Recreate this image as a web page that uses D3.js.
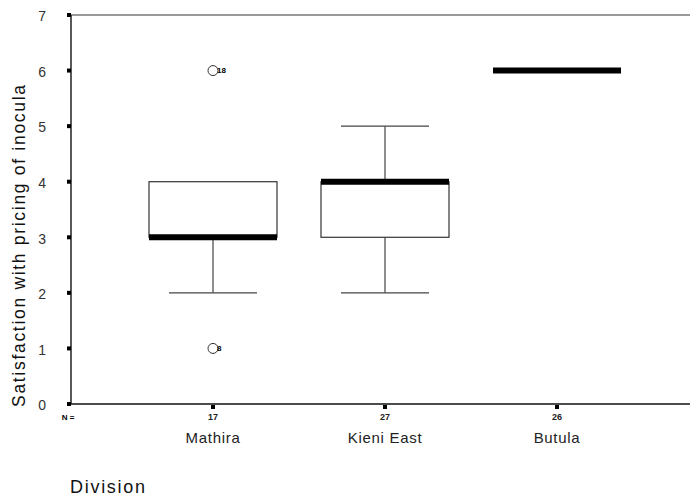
<!DOCTYPE html>
<html>
<head>
<meta charset="utf-8">
<script src="https://cdn.jsdelivr.net/npm/d3@7"></script>
<style>
  body { margin: 0; background: white; }
  text { font-family: Arial, "Liberation Sans", sans-serif; }
</style>
</head>
<body>
<div class="mainVis"></div>
<script>
var divisions = ["Mathira", "Kieni East", "Butula"]
var counts = [17, 27, 26]
var q1 = [3, 3, 6]
var medians = [3, 4, 6]
var q3 = [4, 4, 6]
var whiskerLow = [2, 2, 6]
var whiskerHigh = [4, 5, 6]
var outliers = [
  { "division": "Mathira", "value": 6, "label": "18" },
  { "division": "Mathira", "value": 1, "label": "8" }
]
var yTicks = [0, 1, 2, 3, 4, 5, 6, 7]

var width = 690, height = 496

var svg = d3.select(".mainVis")
    .append("svg")
    .attr("width", width)
    .attr("height", height)

var y = d3.scaleLinear().domain([0, 7]).range([404, 15])
var x = d3.scalePoint().domain(divisions).range([213, 557])

var boxHalf = 64, capHalf = 44

// frame lines
svg.append("line")
    .attr("x1", 71).attr("x2", 690)
    .attr("y1", y(7)).attr("y2", y(7))
    .attr("stroke", "#777").attr("stroke-width", 1.5)
svg.append("line")
    .attr("x1", 71).attr("x2", 71)
    .attr("y1", y(7)).attr("y2", y(0))
    .attr("stroke", "#222").attr("stroke-width", 1.5)
svg.append("line")
    .attr("x1", 71).attr("x2", 690)
    .attr("y1", y(0)).attr("y2", y(0))
    .attr("stroke", "#111").attr("stroke-width", 1.5)

// y ticks
var yt = svg.selectAll(".ytick").data(yTicks).enter().append("g")
    .attr("class", "ytick")
    .attr("transform", function(d) { return "translate(0," + y(d) + ")"; })
yt.append("rect")
    .attr("x", 67).attr("y", -2).attr("width", 4).attr("height", 4)
    .attr("fill", "black")
yt.append("text")
    .attr("x", 46).attr("dy", "0.45em")
    .attr("text-anchor", "end")
    .style("font-size", "14px")
    .attr("fill", "#333")
    .text(function(d) { return d; })

// x ticks
svg.selectAll(".xtick").data(divisions).enter().append("rect")
    .attr("x", function(d) { return x(d) - 2; })
    .attr("y", y(0) + 1).attr("width", 4).attr("height", 4)
    .attr("fill", "black")

svg.append("text")
    .attr("x", 68).attr("y", 420)
    .attr("text-anchor", "middle")
    .style("font-size", "8px").style("font-weight", "bold")
    .text("N =")

svg.selectAll(".count").data(divisions).enter().append("text")
    .attr("x", function(d) { return x(d); })
    .attr("y", 420)
    .attr("text-anchor", "middle")
    .style("font-size", "9px").style("font-weight", "bold")
    .attr("fill", "#222")
    .text(function(d, i) { return counts[i]; })

svg.selectAll(".catLabel").data(divisions).enter().append("text")
    .attr("x", function(d) { return x(d); })
    .attr("y", 443)
    .attr("text-anchor", "middle")
    .style("font-size", "15px")
    .style("letter-spacing", "0.7px")
    .attr("fill", "#222")
    .text(function(d) { return d; })

svg.append("text")
    .attr("x", 70).attr("y", 493)
    .attr("textLength", 75).attr("lengthAdjust", "spacing")
    .style("font-size", "18px")
    .attr("fill", "#111")
    .text("Division")

svg.append("text")
    .attr("transform", "translate(25,246) rotate(-90)")
    .attr("text-anchor", "middle")
    .attr("textLength", 322).attr("lengthAdjust", "spacing")
    .style("font-size", "17.5px")
    .attr("fill", "#111")
    .text("Satisfaction with pricing of inocula")

// boxes
var boxes = svg.selectAll(".box").data(divisions).enter().append("g")
    .attr("class", "box")

boxes.each(function(d, i) {
    var g = d3.select(this)
    var cx = x(d)
    if (whiskerLow[i] < q1[i]) {
        g.append("line").attr("x1", cx).attr("x2", cx)
            .attr("y1", y(q1[i])).attr("y2", y(whiskerLow[i]))
            .attr("stroke", "#444").attr("stroke-width", 1.2)
        g.append("line").attr("x1", cx - capHalf).attr("x2", cx + capHalf)
            .attr("y1", y(whiskerLow[i])).attr("y2", y(whiskerLow[i]))
            .attr("stroke", "#444").attr("stroke-width", 1.2)
    }
    if (whiskerHigh[i] > q3[i]) {
        g.append("line").attr("x1", cx).attr("x2", cx)
            .attr("y1", y(q3[i])).attr("y2", y(whiskerHigh[i]))
            .attr("stroke", "#444").attr("stroke-width", 1.2)
        g.append("line").attr("x1", cx - capHalf).attr("x2", cx + capHalf)
            .attr("y1", y(whiskerHigh[i])).attr("y2", y(whiskerHigh[i]))
            .attr("stroke", "#444").attr("stroke-width", 1.2)
    }
    if (q3[i] > q1[i]) {
        g.append("rect")
            .attr("x", cx - boxHalf).attr("y", y(q3[i]))
            .attr("width", boxHalf * 2).attr("height", y(q1[i]) - y(q3[i]))
            .attr("fill", "white").attr("stroke", "#333").attr("stroke-width", 1.2)
    }
    g.append("line")
        .attr("x1", cx - boxHalf).attr("x2", cx + boxHalf)
        .attr("y1", y(medians[i])).attr("y2", y(medians[i]))
        .attr("stroke", "black").attr("stroke-width", 6)
})

// outliers
var out = svg.selectAll(".outlier").data(outliers).enter().append("g")
out.append("circle")
    .attr("cx", function(d) { return x(d.division); })
    .attr("cy", function(d) { return y(d.value); })
    .attr("r", 5)
    .attr("fill", "white").attr("stroke", "#333").attr("stroke-width", 1)
out.append("text")
    .attr("x", function(d) { return x(d.division) + 4; })
    .attr("y", function(d) { return y(d.value); })
    .attr("dy", "0.35em")
    .style("font-size", "8px").style("font-weight", "bold")
    .text(function(d) { return d.label; })
</script>
</body>
</html>
